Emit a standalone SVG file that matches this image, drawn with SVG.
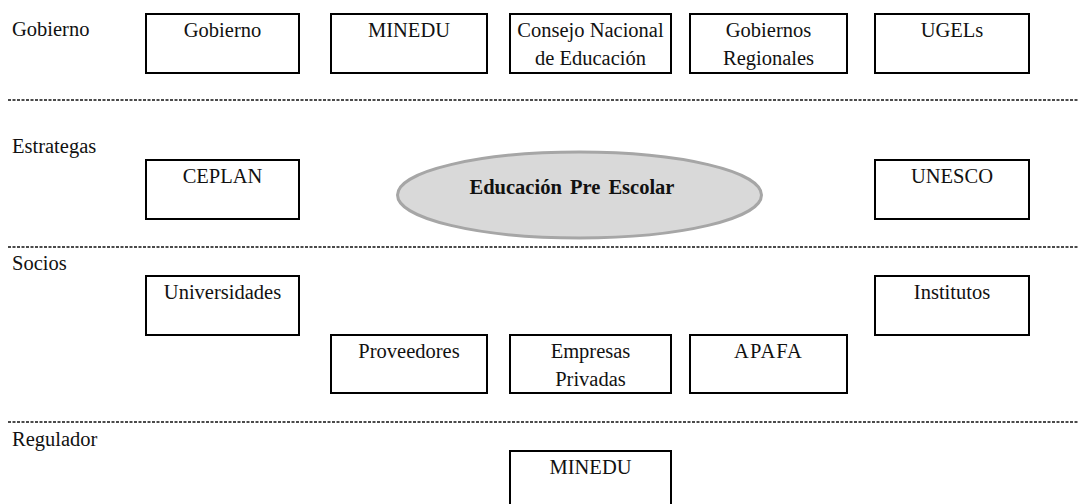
<svg xmlns="http://www.w3.org/2000/svg" width="1078" height="504" viewBox="0 0 1078 504">
<style>
.box{fill:#fff;stroke:#000;stroke-width:2}
.t{font-family:"Liberation Serif","Times New Roman","DejaVu Serif",serif;font-size:20.5px;fill:#111}
.c{text-anchor:middle}
.sep{stroke:#111;stroke-width:1.3;stroke-dasharray:3 1.5;fill:none}
</style>
<rect width="1078" height="504" fill="#fff"/>
<g id="separators">
<line class="sep" x1="8" y1="100" x2="1078" y2="100"/>
<line class="sep" x1="8" y1="247" x2="1078" y2="247"/>
<line class="sep" x1="8" y1="422" x2="1078" y2="422"/>
</g>
<g id="lane-labels">
<text class="t" x="12" y="36">Gobierno</text>
<text class="t" x="12" y="153">Estrategas</text>
<text class="t" x="12" y="270">Socios</text>
<text class="t" x="12" y="446">Regulador</text>
</g>
<g id="n-gobierno"><rect class="box" x="146" y="14" width="153" height="59"/><text class="t c" x="222.5" y="37">Gobierno</text></g>
<g id="n-minedu"><rect class="box" x="331" y="14" width="156" height="59"/><text class="t c" x="409" y="37">MINEDU</text></g>
<g id="n-consejo"><rect class="box" x="510" y="14" width="161" height="59"/><text class="t c" x="590.5" y="37">Consejo Nacional</text><text class="t c" x="590.5" y="65">de Educación</text></g>
<g id="n-gobreg"><rect class="box" x="690" y="14" width="157" height="59"/><text class="t c" x="768.5" y="37">Gobiernos</text><text class="t c" x="768.5" y="65">Regionales</text></g>
<g id="n-ugels"><rect class="box" x="875" y="14" width="154" height="59"/><text class="t c" x="952" y="37">UGELs</text></g>
<g id="n-ceplan"><rect class="box" x="146" y="160" width="153" height="59"/><text class="t c" x="222.5" y="183">CEPLAN</text></g>
<g id="n-center"><ellipse cx="579.5" cy="195" rx="182" ry="43" fill="#d9d9d9" stroke="#a6a6a6" stroke-width="3"/><text class="t c" x="572" y="194" font-weight="bold" word-spacing="3">Educación Pre Escolar</text></g>
<g id="n-unesco"><rect class="box" x="875" y="160" width="154" height="59"/><text class="t c" x="952" y="183">UNESCO</text></g>
<g id="n-univ"><rect class="box" x="146" y="276" width="153" height="59"/><text class="t c" x="222.5" y="299">Universidades</text></g>
<g id="n-inst"><rect class="box" x="875" y="276" width="154" height="59"/><text class="t c" x="952" y="299">Institutos</text></g>
<g id="n-prov"><rect class="box" x="331" y="335" width="156" height="58"/><text class="t c" x="409" y="358">Proveedores</text></g>
<g id="n-emp"><rect class="box" x="510" y="335" width="161" height="58"/><text class="t c" x="590.5" y="358">Empresas</text><text class="t c" x="590.5" y="386">Privadas</text></g>
<g id="n-apafa"><rect class="box" x="690" y="335" width="157" height="58"/><text class="t c" x="768.5" y="358" letter-spacing="1">APAFA</text></g>
<g id="n-minedu2"><rect class="box" x="510" y="451" width="161" height="80"/><text class="t c" x="590.5" y="474">MINEDU</text></g>
<g id="connectors"></g>
</svg>
